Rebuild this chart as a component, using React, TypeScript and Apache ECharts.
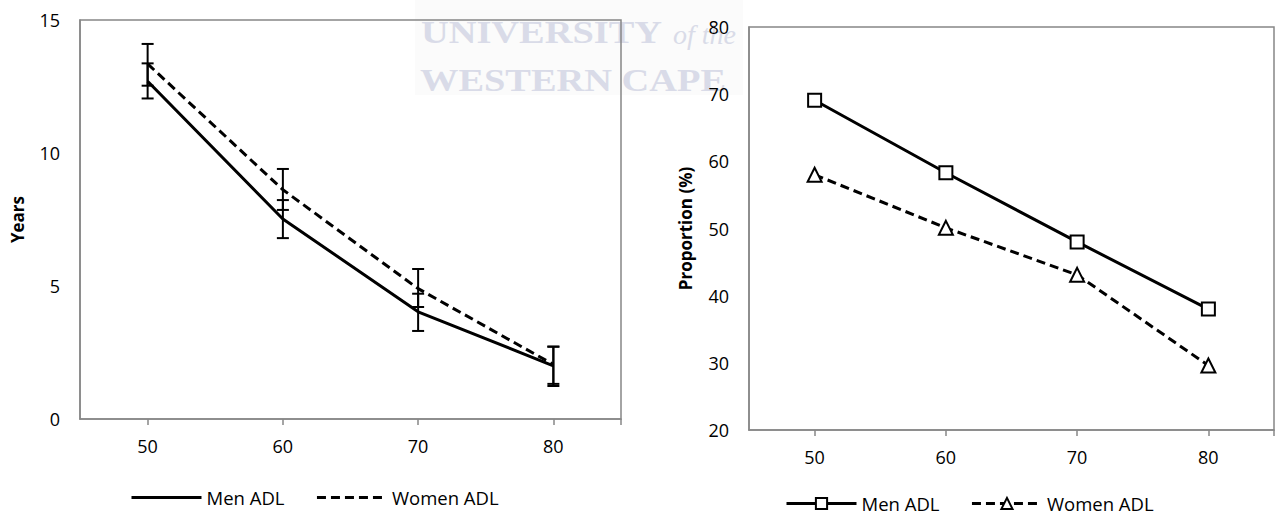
import React, { useEffect, useRef } from "react";
import * as echarts from "echarts";

// ---- data ----
const ages = [50, 60, 70, 80];
const xTickValues = [50, 60, 70, 80, 85];

const menYears = [12.7, 7.52, 4.03, 2.0];
const menYearsLow = [12.05, 6.8, 3.31, 1.32];
const menYearsHigh = [13.37, 8.23, 4.71, 2.72];
const womenYears = [13.35, 8.62, 4.9, 2.05];
const womenYearsLow = [12.53, 7.86, 4.21, 1.24];
const womenYearsHigh = [14.1, 9.4, 5.64, 2.72];

const menProportion = [69.1, 58.3, 48.0, 38.0];
const womenProportion = [58.0, 50.1, 43.1, 29.6];

const legendLabels: Record<string, string> = {
  menYears: "Men ADL",
  womenYears: "Women ADL",
  menProp: "Men ADL",
  womenProp: "Women ADL",
};

const FONT = "Open Sans";
const GRAY = "#878787";
const WM = "#d9dbe8";

function errorBarRender(params: any, api: any) {
  const x = api.value(0);
  const lo = api.value(1);
  const hi = api.value(2);
  const p1 = api.coord([x, hi]);
  const p2 = api.coord([x, lo]);
  const hw = 6;
  const style = { stroke: "#000", lineWidth: 2 };
  return {
    type: "group",
    children: [
      { type: "line", shape: { x1: p1[0], y1: p1[1], x2: p2[0], y2: p2[1] }, style },
      { type: "line", shape: { x1: p1[0] - hw, y1: p1[1], x2: p1[0] + hw, y2: p1[1] }, style },
      { type: "line", shape: { x1: p2[0] - hw, y1: p2[1], x2: p2[0] + hw, y2: p2[1] }, style },
    ],
  };
}

function xAxisFor(gridIndex: number) {
  return {
    type: "value",
    gridIndex,
    min: 45,
    max: 85,
    axisLine: { show: true, onZero: false, lineStyle: { color: GRAY, width: 1.5 } },
    axisTick: {
      show: true,
      length: 6,
      customValues: xTickValues,
      lineStyle: { color: GRAY, width: 1.5 },
    },
    axisLabel: {
      customValues: ages,
      fontSize: 18,
      fontFamily: FONT,
      color: "#000",
      margin: 18,
    },
    splitLine: { show: false },
  };
}

export default function App() {
  const ref = useRef<HTMLDivElement>(null);

  useEffect(() => {
    if (!ref.current) return;
    const chart = echarts.init(ref.current, null, { renderer: "svg" });

    const legendCommon = {
      orient: "horizontal",
      itemWidth: 70,
      itemHeight: 14,
      itemGap: 31,
      padding: 0,
      selectedMode: false,
      formatter: (name: string) => legendLabels[name],
      textStyle: { fontSize: 18.5, fontFamily: FONT, color: "#000" },
      lineStyle: { width: 3 },
    };

    const option: any = {
      animation: false,
      backgroundColor: "#fff",
      textStyle: { fontFamily: FONT },
      graphic: [
        {
          type: "rect",
          z: -10,
          shape: { x: 415, y: 0, width: 328, height: 95 },
          style: { fill: "#fbfbfb" },
          silent: true,
        },
        {
          type: "text",
          z: -9,
          x: 421,
          y: 33,
          scaleX: 1.2,
          style: {
            text: "UNIVERSITY",
            font: "bold 32px 'Liberation Serif'",
            fill: WM,
            verticalAlign: "middle",
            align: "left",
          },
          silent: true,
        },
        {
          type: "text",
          z: -9,
          x: 673,
          y: 34,
          style: {
            text: "of the",
            font: "italic 28px 'Liberation Serif'",
            fill: WM,
            verticalAlign: "middle",
            align: "left",
          },
          silent: true,
        },
        {
          type: "text",
          z: -9,
          x: 420,
          y: 81,
          scaleX: 1.2,
          style: {
            text: "WESTERN CAPE",
            font: "bold 32px 'Liberation Serif'",
            fill: WM,
            verticalAlign: "middle",
            align: "left",
          },
          silent: true,
        },
      ],
      grid: [
        {
          left: 80,
          top: 20,
          width: 541,
          height: 399,
          show: true,
          borderColor: GRAY,
          borderWidth: 1.5,
          backgroundColor: "transparent",
        },
        {
          left: 749,
          top: 27,
          width: 525,
          height: 403,
          show: true,
          borderColor: GRAY,
          borderWidth: 1.5,
          backgroundColor: "transparent",
        },
      ],
      xAxis: [xAxisFor(0), xAxisFor(1)],
      yAxis: [
        {
          type: "value",
          gridIndex: 0,
          min: 0,
          max: 15,
          interval: 5,
          name: "Years",
          nameLocation: "middle",
          nameGap: 54,
          nameTextStyle: { fontSize: 17, fontWeight: "bold", fontFamily: FONT, color: "#000" },
          axisLine: { show: true, lineStyle: { color: GRAY, width: 1.5 } },
          axisTick: { show: false },
          axisLabel: { fontSize: 18, fontFamily: FONT, color: "#000", margin: 20 },
          splitLine: { show: false },
        },
        {
          type: "value",
          gridIndex: 1,
          min: 20,
          max: 80,
          interval: 10,
          name: "Proportion (%)",
          nameLocation: "middle",
          nameGap: 55,
          nameTextStyle: { fontSize: 17, fontWeight: "bold", fontFamily: FONT, color: "#000" },
          axisLine: { show: true, lineStyle: { color: GRAY, width: 1.5 } },
          axisTick: { show: false },
          axisLabel: { fontSize: 18, fontFamily: FONT, color: "#000", margin: 20 },
          splitLine: { show: false },
        },
      ],
      legend: [
        {
          ...legendCommon,
          data: ["menYears", "womenYears"],
          left: 130,
          top: 488,
          itemStyle: { opacity: 0 },
        },
        { ...legendCommon, data: ["menProp", "womenProp"], left: 785, top: 494 },
      ],
      series: [
        {
          name: "menYears",
          type: "line",
          xAxisIndex: 0,
          yAxisIndex: 0,
          data: ages.map((a, i) => [a, menYears[i]]),
          symbol: "none",
          lineStyle: { color: "#000", width: 3 },
          itemStyle: { color: "#000" },
        },
        {
          name: "womenYears",
          type: "line",
          xAxisIndex: 0,
          yAxisIndex: 0,
          data: ages.map((a, i) => [a, womenYears[i]]),
          symbol: "none",
          lineStyle: { color: "#000", width: 3, type: [9, 5] },
          itemStyle: { color: "#000" },
        },
        {
          name: "menYearsErr",
          type: "custom",
          xAxisIndex: 0,
          yAxisIndex: 0,
          renderItem: errorBarRender,
          encode: { x: 0, y: [1, 2] },
          data: ages.map((a, i) => [a, menYearsLow[i], menYearsHigh[i]]),
          z: 5,
        },
        {
          name: "womenYearsErr",
          type: "custom",
          xAxisIndex: 0,
          yAxisIndex: 0,
          renderItem: errorBarRender,
          encode: { x: 0, y: [1, 2] },
          data: ages.map((a, i) => [a, womenYearsLow[i], womenYearsHigh[i]]),
          z: 5,
        },
        {
          name: "menProp",
          type: "line",
          xAxisIndex: 1,
          yAxisIndex: 1,
          data: ages.map((a, i) => [a, menProportion[i]]),
          symbol: "rect",
          symbolSize: 13,
          lineStyle: { color: "#000", width: 3 },
          itemStyle: { color: "#fff", borderColor: "#000", borderWidth: 2 },
        },
        {
          name: "womenProp",
          type: "line",
          xAxisIndex: 1,
          yAxisIndex: 1,
          data: ages.map((a, i) => [a, womenProportion[i]]),
          symbol: "triangle",
          symbolSize: 14,
          lineStyle: { color: "#000", width: 3, type: [9, 5] },
          itemStyle: { color: "#fff", borderColor: "#000", borderWidth: 2 },
        },
      ],
    };

    chart.setOption(option);
    return () => chart.dispose();
  }, []);

  return (
    <div
      ref={ref}
      style={{ position: "absolute", left: 0, top: 0, width: 1280, height: 515, background: "#fff" }}
    />
  );
}
